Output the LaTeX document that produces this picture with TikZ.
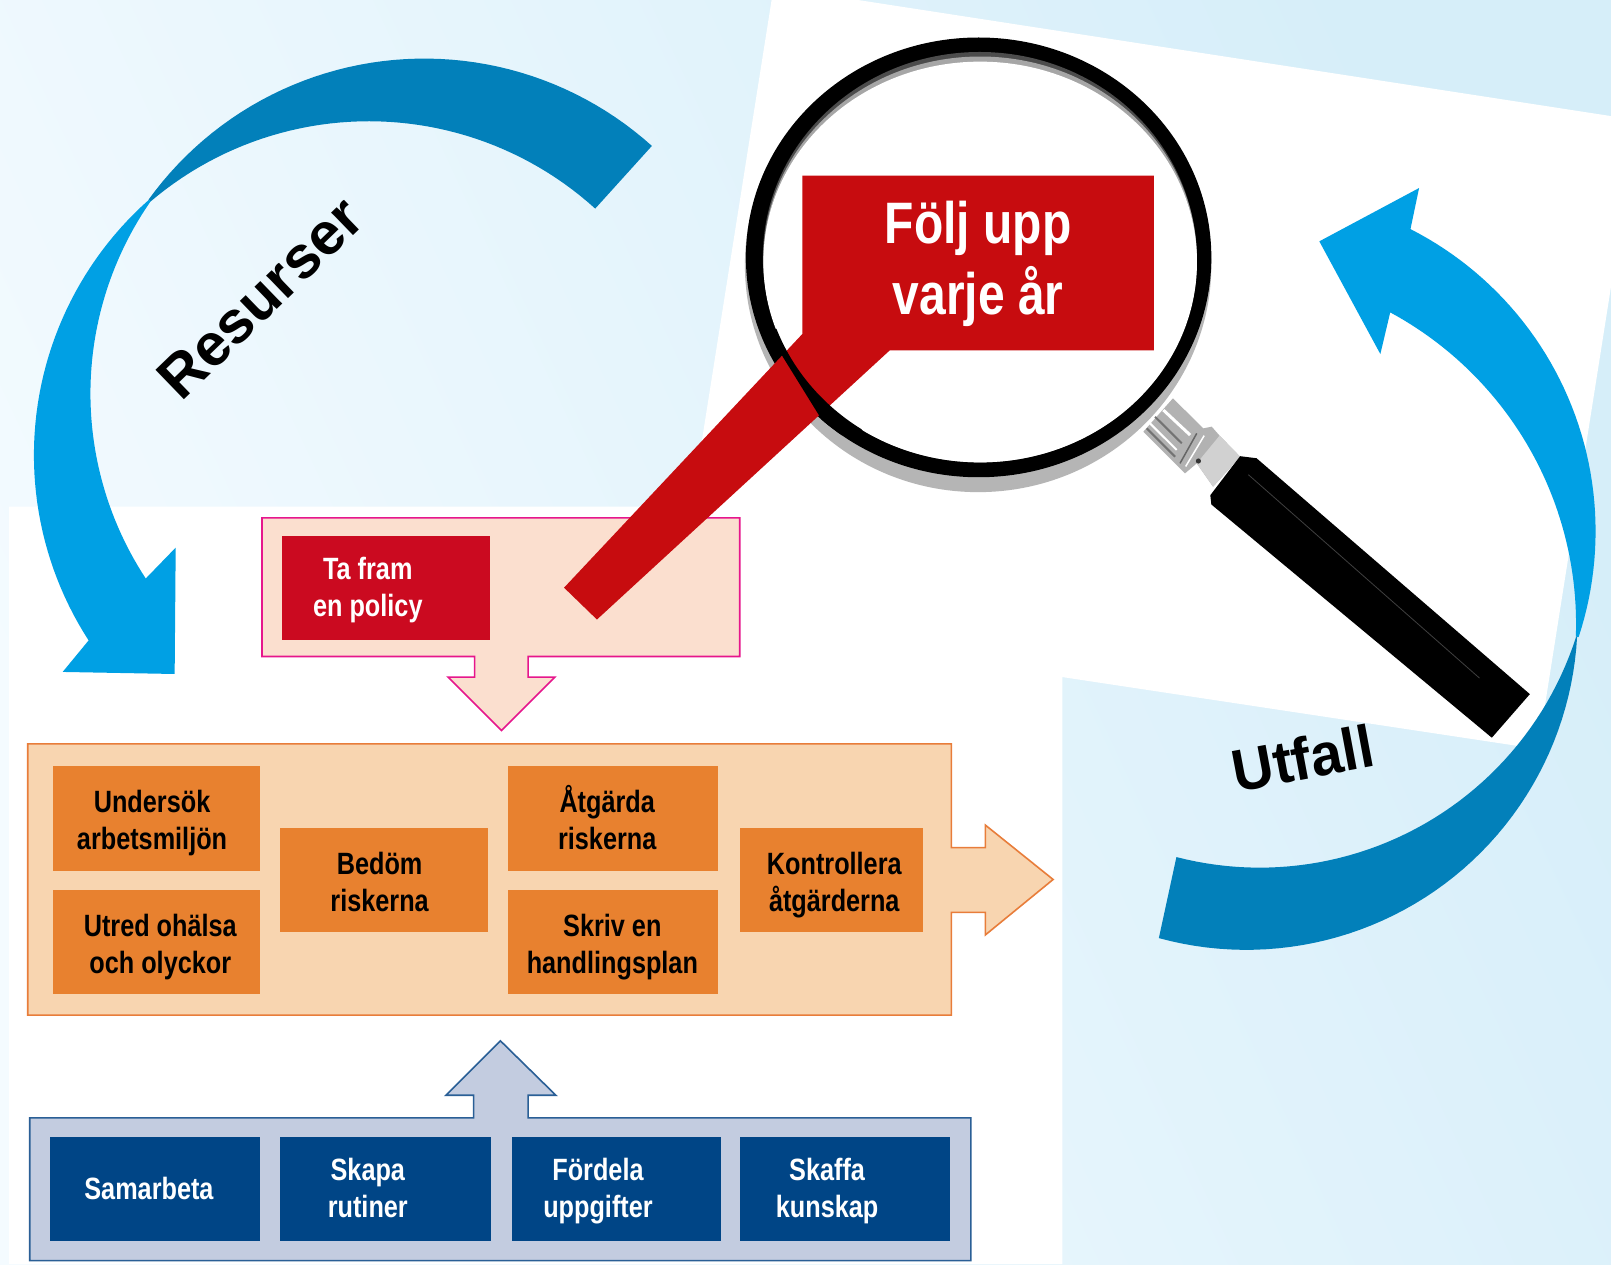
\documentclass[tikz,border=0pt]{standalone}
\usepackage{fontspec}
\usepackage{graphicx}
\setmainfont{Liberation Sans}
\definecolor{bgA}{HTML}{F4FBFF}
\definecolor{bgB}{HTML}{D6EEF9}
\definecolor{arcDark}{HTML}{0280BA}
\definecolor{arcLight}{HTML}{00A0E4}
\definecolor{calloutRed}{HTML}{C70C0F}
\definecolor{policyRed}{HTML}{CB0A20}
\definecolor{policyFill}{HTML}{FBDFCF}
\definecolor{policyLine}{HTML}{E6168C}
\definecolor{orangeFill}{HTML}{F8D5B0}
\definecolor{orangeLine}{HTML}{E87D3A}
\definecolor{orangeBox}{HTML}{E8812F}
\definecolor{blueFill}{HTML}{C3CCE0}
\definecolor{blueLine}{HTML}{2A5F96}
\definecolor{blueBox}{HTML}{004586}
\newcommand{\sq}[1]{\scalebox{0.82}[1]{#1}}
\tikzset{
  boxlabel/.style={font=\bfseries\fontsize{30.8}{37}\selectfont,align=center,inner sep=0pt},
  darklabel/.style={boxlabel,text=black},
  lightlabel/.style={boxlabel,text=white},
  biglabel/.style={font=\bfseries\fontsize{58.5}{71}\selectfont,align=center,inner sep=0pt,text=white},
  arclabel/.style={font=\bfseries\fontsize{59.5}{62}\selectfont,inner sep=0pt,text=black},
  panel/.style={line width=1.6pt,line join=miter},
  arcsamples/.style={domain=#1,samples=50},
}
\begin{document}
\begin{tikzpicture}[x=1.0274pt,y=-1.0274pt]
\useasboundingbox (0,0) rectangle (1568,1230.3);
% background
\shade[left color=bgA,right color=bgB,shading angle=115] (0,0) rectangle (1568,1230.3);
% white areas
\fill[white] (751,0) -- (835,0) -- (1568,113) -- (1568,279) -- (1497,729) -- (1034,659) -- (1034,1230.3) -- (9,1230.3) -- (9,493) -- (673,493) -- cycle;
% Resurser arc
\fill[arcDark] plot[arcsamples=48:144.2] ({413+331*cos(\x)},{388-331*sin(\x)}) -- plot[arcsamples=130.4:47.8] ({359+328*cos(\x)},{446-328*sin(\x)}) -- cycle;
\fill[arcLight] plot[arcsamples=131.6:212.9] ({365+332*cos(\x)},{443-332*sin(\x)}) -- (61,654) -- (170,656) -- (171,533) -- plot[arcsamples=213.3:145.2] ({416+328*cos(\x)},{383-328*sin(\x)}) -- cycle;
% magnifier
\fill[gray!58] (952,258) ellipse [x radius=227, y radius=221];
\fill[black] (952.5,250.5) ellipse [x radius=226.5, y radius=214];
\fill[black!70] (953.5,250.3) ellipse [x radius=211, y radius=199.7];
\fill[black!35] (954,252.5) ellipse [x radius=211, y radius=197.5];
\fill[white] (954,255) ellipse [x radius=211, y radius=195];
% collar
\fill[black!30] (1112.8,420.2) -- (1141.6,387.7) -- (1171.2,416.9) -- (1179.4,415.3) -- (1187,424) -- (1207,444.5) -- (1180.7,473.7) -- (1164.8,451) -- (1153.4,460.7) -- (1145.3,452.6) -- cycle;
\fill[black!18] (1187,424) -- (1207,444.5) -- (1180.7,473.7) -- (1164.8,451) -- cycle;
\draw[white,line width=3pt] (1132.3,399.1) -- (1158.3,423.4);
\draw[black!55,line width=2pt] (1124.2,405.6) -- (1150.2,431.5);
\draw[white,line width=2pt] (1119.3,412.1) -- (1145.3,438);
\draw[black!55,line width=2pt] (1116.1,416.9) -- (1143.7,444.5);
\draw[black!60,line width=1.5pt] (1164.8,421.8) -- (1148.5,451);
\draw[white,line width=1.5pt] (1172,424) -- (1154,454);
\fill[black!80] (1166.4,448.7) circle [radius=2.5];
% handle
\fill[black] (1178,482) -- (1207,444) -- (1223,446) -- (1489,675.6) -- (1452,718) -- (1179,491) -- cycle;
\draw[black!75,line width=0.8pt] (1215,462) -- (1440,660);
% Utfall arc
\fill[arcLight] (1343.5,344.6) -- (1284.1,234.9) -- (1381.2,183) -- plot[arcsamples=63:-18.2] ({1223+330*cos(\x)},{517-330*sin(\x)}) -- plot[arcsamples=-2:61.6] ({1189+345*cos(\x)},{607.5-345*sin(\x)}) -- cycle;
\fill[arcDark] plot[arcsamples=-3.1:-105.3] ({1213+322.5*cos(\x)},{602-322.5*sin(\x)}) -- plot[arcsamples=-104.5:-17.8] ({1226+323.5*cos(\x)},{521-323.5*sin(\x)}) -- cycle;
\node[arclabel,rotate=44] (resurser) at (253,290) {Resurser};
\node[arclabel,rotate=10.6] (utfall) at (1268,738) {\scalebox{0.96}[1]{Utfall}};
% policy panel
\draw[panel,draw=policyLine,fill=policyFill] (255,504) -- (720,504) -- (720,639) -- (514,639) -- (514,659) -- (540,659) -- (488,711) -- (436,659) -- (462,659) -- (462,639) -- (255,639) -- cycle;
\fill[policyRed] (274,522) rectangle (477,623);
\node[lightlabel] (policy) at (358,574.5) {\sq{Ta fram}\\\sq{en policy}};
% orange panel
\draw[panel,draw=orangeLine,fill=orangeFill] (27,724) -- (926,724) -- (926,825) -- (959,825) -- (959,803) -- (1025,856) -- (959,910) -- (959,888) -- (926,888) -- (926,988) -- (27,988) -- cycle;
\fill[orangeBox] (52,746) rectangle (253,848);
\fill[orangeBox] (52,866) rectangle (253,967);
\fill[orangeBox] (273,806) rectangle (475,907);
\fill[orangeBox] (494,746) rectangle (699,848);
\fill[orangeBox] (494,866) rectangle (699,967);
\fill[orangeBox] (720,806) rectangle (898,907);
\node[darklabel] (undersok) at (148,801) {\sq{Undersök}\\\sq{arbetsmiljön}};
\node[darklabel] (utred) at (156,922) {\sq{Utred ohälsa}\\\sq{och olyckor}};
\node[darklabel] (bedom) at (369.5,858) {\sq{Bedöm}\\\sq{riskerna}};
\node[darklabel] (atgarda) at (591,796) {\sq{Åtgärda}\\\sq{riskerna}};
\node[darklabel] (skriv) at (596,922) {\sq{Skriv en}\\\sq{handlingsplan}};
\node[darklabel] (kontroll) at (812,861) {\sq{Kontrollera}\\\sq{åtgärderna}};
% blue panel
\draw[panel,draw=blueLine,fill=blueFill] (29,1088) -- (461,1088) -- (461,1066) -- (434,1066) -- (487,1013) -- (541,1066) -- (514,1066) -- (514,1088) -- (945,1088) -- (945,1227) -- (29,1227) -- cycle;
\fill[blueBox] (49,1107) rectangle (253,1208);
\fill[blueBox] (273,1107) rectangle (478,1208);
\fill[blueBox] (498,1107) rectangle (702,1208);
\fill[blueBox] (720,1107) rectangle (925,1208);
\node[lightlabel] (samarbeta) at (145,1157) {\sq{Samarbeta}};
\node[lightlabel] (rutiner) at (358,1156) {\sq{Skapa}\\\sq{rutiner}};
\node[lightlabel] (fordela) at (582,1159) {\sq{Fördela}\\\sq{uppgifter}};
\node[lightlabel] (skaffa) at (805,1159) {\sq{Skaffa}\\\sq{kunskap}};
% callout
\fill[calloutRed] (781,171) -- (1123,171) -- (1123,341) -- (866,341) -- (581,603) -- (549,572) -- (781,325) -- cycle;
\node[biglabel] (folj) at (952,257) {\sq{Följ upp}\\\sq{varje år}};
% ring over the callout tail
\begin{scope}
\clip (745,320) -- (770,320) -- (840,420) -- (810,425) -- cycle;
\fill[black,even odd rule] (952.5,250.5) ellipse [x radius=226.5, y radius=214] (953.5,250.3) ellipse [x radius=211, y radius=199.7];
\end{scope}
\end{tikzpicture}
\end{document}
